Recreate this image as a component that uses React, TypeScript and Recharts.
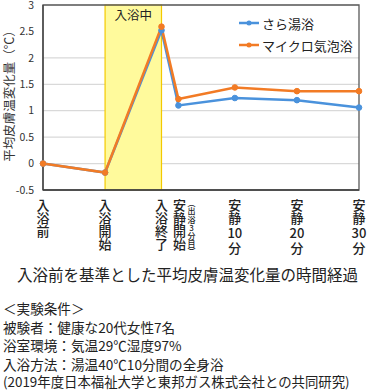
import React from "react";
import {
  LineChart,
  Line,
  XAxis,
  YAxis,
  CartesianGrid,
  ReferenceArea,
} from "recharts";

// minutes from bath start (入浴開始 = 0)
const times = [-11, 0, 10, 13, 23, 34, 45];
const xLabels = ["入浴前", "入浴開始", "入浴終了", "安静開始", "安静10分", "安静20分", "安静30分"];
const sarayu = [0, -0.17, 2.52, 1.1, 1.24, 1.2, 1.06];
const microBubble = [0, -0.17, 2.59, 1.22, 1.44, 1.37, 1.37];
const yTicks = [-0.5, 0, 0.5, 1, 1.5, 2, 2.5, 3];

const data = times.map((t, i) => ({ t, sarayu: sarayu[i], micro: microBubble[i] }));

const FONT = '"Noto Sans CJK JP", "Noto Sans", sans-serif';
const BLUE = "#4A92DC";
const ORANGE = "#F27B25";

// vertical (tategaki) label: one char per line, digit runs kept together
function Stack({ text, cx, startY, size, kanjiH, digitH }: { text: string; cx: number; startY: number; size: number; kanjiH: number; digitH: number }) {
  const tokens = text.match(/\d+|./g) || [];
  let cursor = startY;
  return (
    <text textAnchor="middle" dominantBaseline="central" fontSize={size} fill="#222" fontFamily={FONT} fontWeight={500}>
      {tokens.map((tk, j) => {
        const h = /\d/.test(tk) ? digitH : kanjiH;
        const cy = cursor + h / 2;
        cursor += h;
        return (
          <tspan key={j} x={cx} y={cy}>
            {tk}
          </tspan>
        );
      })}
    </text>
  );
}

const XTick = (props: any) => {
  const { x, y, payload } = props;
  const i = times.indexOf(payload.value);
  if (i < 0) return null;
  const cx = i === 3 ? x + 1 : x;
  return (
    <g>
      <Stack text={xLabels[i]} cx={cx} startY={y + 5} size={13} kanjiH={13} digitH={17} />
      {i === 3 && <Stack text="︵出浴3分目︶" cx={x + 13} startY={y + 6} size={8} kanjiH={8.2} digitH={8.2} />}
    </g>
  );
};

const legendItems = [
  { name: "さら湯浴", color: BLUE },
  { name: "マイクロ気泡浴", color: ORANGE },
];

const YLabel = () => (
  <text x={8} y={93} transform="rotate(-90 8 93)" textAnchor="middle" dominantBaseline="central" fontSize={12.5} fill="#333" fontFamily={FONT}>
    平均皮膚温変化量（℃）
  </text>
);

export default function App() {
  return (
    <div style={{ position: "absolute", left: 0, top: 0, width: 375, height: 390, background: "#fff", fontFamily: FONT }}>
      <LineChart width={375} height={265} data={data} margin={{ top: 5, right: 16, bottom: 0, left: 0 }}>
        <CartesianGrid vertical={false} stroke="#d9d9d9" strokeWidth={1.2} />
        <ReferenceArea
          x1={0}
          x2={10}
          y1={-0.5}
          y2={3}
          fill="#FFFA9C"
          fillOpacity={1}
          stroke="#F3C900"
          strokeWidth={1.2}
          label={{ value: "入浴中", position: "insideTop", offset: 6, fontSize: 12.5, fill: "#222", fontFamily: FONT }}
        />
        <ReferenceArea x1={-11} x2={45} y1={-0.5} y2={3} fill="none" stroke="#595959" strokeWidth={1.3} />
        <XAxis
          dataKey="t"
          type="number"
          domain={[-11, 45]}
          ticks={times}
          tick={<XTick />}
          tickLine={false}
          tickSize={0}
          axisLine={{ stroke: "#404040", strokeWidth: 1.3 }}
          height={75}
          interval={0}
        />
        <YAxis
          domain={[-0.5, 3]}
          ticks={yTicks}
          width={43}
          tickLine={false}
          tickSize={0}
          tickMargin={9}
          axisLine={{ stroke: "#404040", strokeWidth: 1.3 }}
          tick={{ fontSize: 10.5, fill: "#333", fontFamily: FONT }}
          label={<YLabel />}
        />
        <Line
          dataKey="sarayu"
          name="さら湯浴"
          stroke={BLUE}
          strokeWidth={2.5}
          dot={{ r: 2.8, fill: BLUE, stroke: BLUE, strokeWidth: 1 }}
          isAnimationActive={false}
        />
        <Line
          dataKey="micro"
          name="マイクロ気泡浴"
          stroke={ORANGE}
          strokeWidth={2.5}
          dot={{ r: 2.8, fill: ORANGE, stroke: ORANGE, strokeWidth: 1 }}
          isAnimationActive={false}
        />
      </LineChart>
      <div style={{ position: "absolute", left: 238, top: 12, fontSize: 13, color: "#222" }}>
        {legendItems.map((s) => (
          <div key={s.name} style={{ display: "flex", alignItems: "center", height: 22 }}>
            <svg width={24} height={10}>
              <line x1={1} y1={5} x2={21} y2={5} stroke={s.color} strokeWidth={2.5} />
              <circle cx={11} cy={5} r={2.5} fill={s.color} />
            </svg>
            <span>{s.name}</span>
          </div>
        ))}
      </div>
      <div style={{ position: "absolute", left: 0, width: 375, top: 264, textAlign: "center", fontSize: 15.5, lineHeight: "20px", color: "#222" }}>
        入浴前を基準とした平均皮膚温変化量の時間経過
      </div>
      <div style={{ position: "absolute", left: 3, top: 299, fontSize: 13.6, lineHeight: "18.5px", color: "#222" }}>
        <div>＜実験条件＞</div>
        <div>被験者：健康な20代女性7名</div>
        <div>浴室環境：気温29℃湿度97%</div>
        <div>入浴方法：湯温40℃10分間の全身浴</div>
        <div style={{ fontSize: 13.4, lineHeight: "15px", marginTop: 1, whiteSpace: "nowrap" }}>(2019年度日本福祉大学と東邦ガス株式会社との共同研究)</div>
      </div>
    </div>
  );
}
